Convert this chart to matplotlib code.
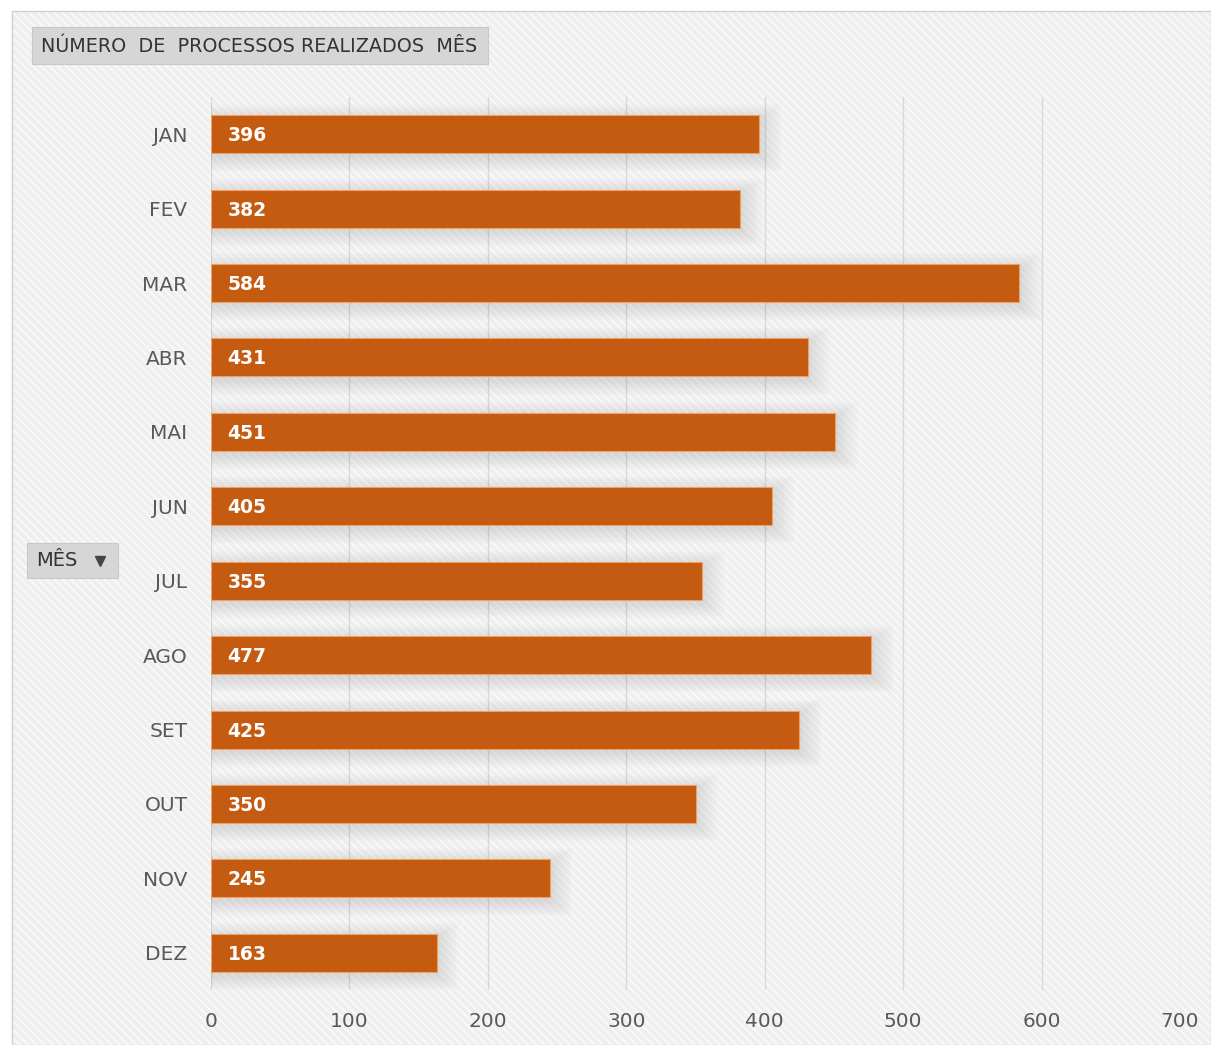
import numpy as np
import matplotlib.pyplot as plt
from matplotlib.patches import Rectangle

# dados
meses = ['JAN', 'FEV', 'MAR', 'ABR', 'MAI', 'JUN', 'JUL', 'AGO', 'SET', 'OUT', 'NOV', 'DEZ']
processos = [396, 382, 584, 431, 451, 405, 355, 477, 425, 350, 245, 163]
xticks = [0, 100, 200, 300, 400, 500, 600, 700]

cor_barra = '#C55A11'
cor_texto = '#595959'
plt.rcParams['font.family'] = ['DejaVu Sans']
plt.rcParams['hatch.linewidth'] = 1.2

fig = plt.figure(figsize=(12.11, 10.45), dpi=100)
fig.patch.set_facecolor('white')

# fundo listrado
bg = fig.add_axes([0, 0, 1, 1], zorder=-10)
bg.set_xlim(0, 1)
bg.set_ylim(0, 1)
bg.axis('off')
bg.add_patch(Rectangle((0.01, 0.0), 0.99, 0.989, facecolor='#efefef',
                       edgecolor='none'))
bg.add_patch(Rectangle((0.01, 0.0), 0.99, 0.989, facecolor='none',
                       edgecolor='#fbfbfb', lw=0, hatch='\\\\\\\\'))
bg.add_patch(Rectangle((0.01, 0.0), 0.99, 0.989, facecolor='none',
                       edgecolor='#d0d0d0', lw=1))

# caixa do titulo
bg.add_patch(Rectangle((32 / 1211, 1 - 64 / 1045), (488 - 32) / 1211, 37 / 1045,
                       facecolor='#d6d6d6', edgecolor='#c8c8c8', lw=0.8))
bg.text(41 / 1211, 1 - 46 / 1045, 'NÚMERO  DE  PROCESSOS REALIZADOS  MÊS',
        fontsize=13.8, color='#333333', va='center', ha='left')

# caixa do filtro
bg.add_patch(Rectangle((27 / 1211, 1 - 578 / 1045), 91 / 1211, 35 / 1045,
                       facecolor='#d6d6d6', edgecolor='#c8c8c8', lw=0.8))
bg.text(36 / 1211, 1 - 561 / 1045, 'MÊS', fontsize=14, color='#333333',
        va='center', ha='left')
bg.plot([100 / 1211], [1 - 561 / 1045], marker='v', color='#444444',
        markersize=7)

ax = fig.add_axes([211 / 1211, 1 - 990 / 1045, (1180 - 211) / 1211, 893 / 1045])
ax.set_facecolor('none')
y = np.arange(len(meses))

# sombras suaves
for k in range(8):
    ax.barh(y + 0.05, [v + 2 + 2 * k for v in processos],
            height=0.55 + 0.05 * k, color='#707070', alpha=0.025, zorder=1, lw=0)

ax.barh(y, processos, height=0.51, color=cor_barra, edgecolor='#f0a060',
        lw=0.8, zorder=3)

for i, v in enumerate(processos):
    ax.text(12, i + 0.02, str(v), color='white', fontweight='bold', fontsize=13.5,
            va='center', ha='left', zorder=4)

ax.set_xlim(0, 700)
ax.set_ylim(len(meses) - 0.5, -0.5)
ax.set_xticks(xticks)
ax.set_yticks(y)
ax.set_yticklabels(meses)
ax.tick_params(axis='both', length=0, labelsize=14.5, labelcolor=cor_texto)
ax.tick_params(axis='y', pad=17)
ax.tick_params(axis='x', pad=16)
ax.grid(axis='x', color='#d9d9d9', lw=1, zorder=0)
ax.set_axisbelow(True)
for s in ax.spines.values():
    s.set_visible(False)

plt.savefig('out.png', dpi=100)
